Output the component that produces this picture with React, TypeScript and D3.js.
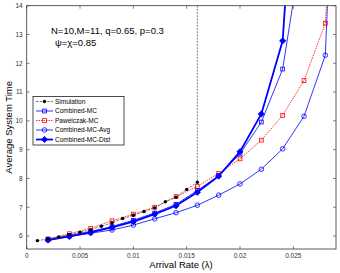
import React from "react";
import * as d3 from "d3";

// arrival rates
const simRates = [0.001, 0.002, 0.003, 0.004, 0.005, 0.006, 0.007, 0.008, 0.009, 0.01, 0.011, 0.012, 0.013, 0.014, 0.015, 0.016];
const simValues = [5.84, 5.9, 5.97, 6.05, 6.13, 6.22, 6.34, 6.46, 6.61, 6.72, 6.85, 6.98, 7.19, 7.35, 7.62, 7.87];

const mcRates = [0.002, 0.004, 0.006, 0.008, 0.01, 0.012, 0.014, 0.016, 0.018, 0.02, 0.022, 0.024, 0.026];
const combinedMC = [5.88, 6.02, 6.16, 6.33, 6.55, 6.8, 7.1, 7.58, 8.1, 8.85, 9.96, 11.8, 16.5];
const combinedDist = [5.86, 5.99, 6.13, 6.3, 6.5, 6.76, 7.05, 7.52, 8.08, 8.93, 10.24, 12.78, 24];

const longRates = [0.002, 0.004, 0.006, 0.008, 0.01, 0.012, 0.014, 0.016, 0.018, 0.02, 0.022, 0.024, 0.026, 0.028, 0.03];
const pawelczak = [5.9, 6.08, 6.27, 6.53, 6.76, 7.0, 7.37, 7.72, 8.18, 8.68, 9.33, 10.19, 11.4, 13.39, 26];
const combinedAvg = [5.86, 5.98, 6.1, 6.21, 6.38, 6.6, 6.81, 7.07, 7.42, 7.81, 8.32, 9.03, 10.16, 12.28, 30];

const xTicks = [0, 0.005, 0.01, 0.015, 0.02, 0.025];
const xTickLabels = ["0", "0.005", "0.01", "0.015", "0.02", "0.025"];
const yTicks = [6, 7, 8, 9, 10, 11, 12, 13, 14];

const legendNames = ["Simulation", "Combined-MC", "Pawelczak-MC", "Combined-MC-Avg", "Combined-MC-Dist"];

const BLUE = "#0000ff";
const RED = "#ff0000";

export default function App() {
  const left = 26.7, right = 336, top = 5.7, bottom = 249;
  const x = d3.scaleLinear().domain([0, 0.029]).range([left, right]);
  const y = d3.scaleLinear().domain([5.55, 14]).range([bottom, top]);

  const line = d3.line<[number, number]>().x(d => x(d[0])).y(d => y(d[1]));
  const zip = (xs: number[], ys: number[]) => xs.map((v, i) => [v, ys[i]] as [number, number]);

  const sim = zip(simRates, simValues);
  const mc = zip(mcRates, combinedMC);
  const dist = zip(mcRates, combinedDist);
  const paw = zip(longRates, pawelczak);
  const avg = zip(longRates, combinedAvg);

  const square = (cx: number, cy: number, color: string, k: string) => (
    <rect key={k} x={cx - 1.9} y={cy - 1.9} width={3.8} height={3.8} fill="none" stroke={color} strokeWidth={0.8} />
  );
  const circle = (cx: number, cy: number, k: string) => (
    <circle key={k} cx={cx} cy={cy} r={2.3} fill="none" stroke={BLUE} strokeWidth={0.8} />
  );
  const diamond = (cx: number, cy: number, k: string) => (
    <path key={k} d={`M${cx},${cy - 3.1}L${cx + 3.1},${cy}L${cx},${cy + 3.1}L${cx - 3.1},${cy}Z`} fill={BLUE} stroke={BLUE} strokeWidth={0.8} />
  );
  const dot = (cx: number, cy: number, k: string) => (
    <circle key={k} cx={cx} cy={cy} r={1.7} fill="#000" />
  );

  const font = "Liberation Sans, Arial, sans-serif";
  const legX = 33, legY = 96.5, rowH = 9.5;

  return (
    <svg width={340} height={273} style={{ position: "absolute", left: 0, top: 0, background: "#fff" }} fontFamily={font}>
      <defs>
        <clipPath id="plotClip">
          <rect x={left} y={top} width={right - left} height={bottom - top} />
        </clipPath>
      </defs>
      <rect x={0} y={0} width={340} height={273} fill="#fff" />

      {/* ticks */}
      {xTicks.map((t, i) => (
        <g key={"xt" + i}>
          <line x1={x(t)} x2={x(t)} y1={bottom} y2={bottom - 3} stroke="#333" strokeWidth={0.6} />
          <line x1={x(t)} x2={x(t)} y1={top} y2={top + 3} stroke="#333" strokeWidth={0.6} />
          <text x={x(t)} y={bottom + 9} fontSize={6.5} textAnchor="middle" fill="#333">{xTickLabels[i]}</text>
        </g>
      ))}
      {yTicks.map((t) => (
        <g key={"yt" + t}>
          <line x1={left} x2={left + 3} y1={y(t)} y2={y(t)} stroke="#333" strokeWidth={0.6} />
          <line x1={right} x2={right - 3} y1={y(t)} y2={y(t)} stroke="#333" strokeWidth={0.6} />
          <text x={left - 4} y={y(t) + 2.3} fontSize={6.5} textAnchor="end" fill="#333">{t}</text>
        </g>
      ))}

      <g clipPath="url(#plotClip)">
        <line x1={x(0.016)} x2={x(0.016)} y1={top} y2={y(simValues[15])} stroke="#333" strokeWidth={0.6} strokeDasharray="2,1.2" />
        <path d={line(avg) || ""} fill="none" stroke={BLUE} strokeWidth={0.8} />
        <path d={line(paw) || ""} fill="none" stroke={RED} strokeWidth={0.8} strokeDasharray="1.5,1" />
        <path d={line(mc) || ""} fill="none" stroke={BLUE} strokeWidth={0.8} />
        <path d={line(dist) || ""} fill="none" stroke={BLUE} strokeWidth={1.8} />
        <path d={line(sim) || ""} fill="none" stroke="#444" strokeWidth={0.7} strokeDasharray="2.5,1.2" />
        {avg.map((d, i) => circle(x(d[0]), y(d[1]), "c" + i))}
        {paw.map((d, i) => square(x(d[0]), y(d[1]), RED, "p" + i))}
        {mc.map((d, i) => square(x(d[0]), y(d[1]), BLUE, "m" + i))}
        {dist.map((d, i) => diamond(x(d[0]), y(d[1]), "d" + i))}
        {sim.map((d, i) => dot(x(d[0]), y(d[1]), "s" + i))}
      </g>

      <rect x={left} y={top} width={right - left} height={bottom - top} fill="none" stroke="#333" strokeWidth={0.8} />

      {/* annotation */}
      <text x={51} y={33.5} fontSize={9.5} fill="#000">N=10,M=11, q=0.65, p=0.3</text>
      <text x={55} y={46} fontSize={9.5} fill="#000">ψ=χ=0.85</text>

      {/* legend */}
      <rect x={legX} y={legY} width={91} height={48.5} fill="#fff" stroke="#000" strokeWidth={0.7} />
      {legendNames.map((name, i) => {
        const cy = legY + 5 + i * rowH;
        const x1 = legX + 3, x2 = legX + 20, cx = (x1 + x2) / 2;
        let lineEl;
        let marker;
        if (i === 0) {
          lineEl = <line x1={x1} x2={x2} y1={cy} y2={cy} stroke="#444" strokeWidth={0.7} strokeDasharray="2.5,1.2" />;
          marker = dot(cx, cy, "lm");
        } else if (i === 1) {
          lineEl = <line x1={x1} x2={x2} y1={cy} y2={cy} stroke={BLUE} strokeWidth={0.8} />;
          marker = square(cx, cy, BLUE, "lm");
        } else if (i === 2) {
          lineEl = <line x1={x1} x2={x2} y1={cy} y2={cy} stroke={RED} strokeWidth={0.8} strokeDasharray="1.5,1" />;
          marker = square(cx, cy, RED, "lm");
        } else if (i === 3) {
          lineEl = <line x1={x1} x2={x2} y1={cy} y2={cy} stroke={BLUE} strokeWidth={0.8} />;
          marker = circle(cx, cy, "lm");
        } else {
          lineEl = <line x1={x1} x2={x2} y1={cy} y2={cy} stroke={BLUE} strokeWidth={1.8} />;
          marker = diamond(cx, cy, "lm");
        }
        return (
          <g key={name}>
            {lineEl}
            {marker}
            <text x={legX + 22} y={cy + 2.3} fontSize={6.5} fill="#000">{name}</text>
          </g>
        );
      })}

      {/* axis labels */}
      <text x={181} y={268} fontSize={9.5} textAnchor="middle" fill="#000">Arrival Rate (λ)</text>
      <text transform={`translate(12,${(top + bottom) / 2}) rotate(-90)`} fontSize={9.5} textAnchor="middle" fill="#000">Average System Time</text>
    </svg>
  );
}
